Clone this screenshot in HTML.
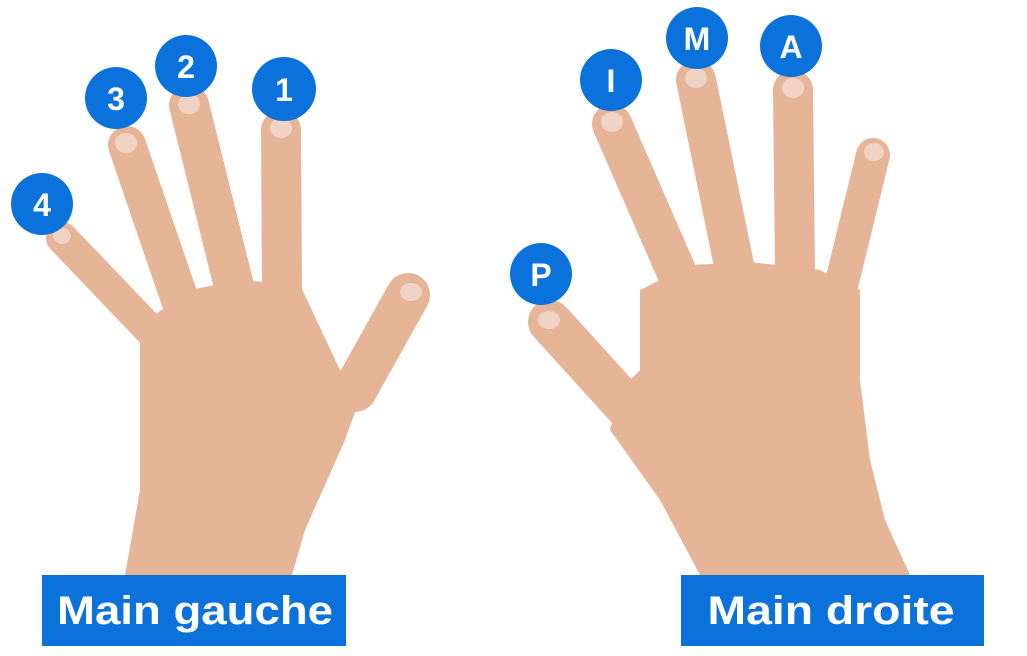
<!DOCTYPE html>
<html><head><meta charset="utf-8"><style>
html,body{margin:0;padding:0;background:#fff;width:1027px;height:656px;overflow:hidden}
svg{display:block}
</style></head><body>
<svg width="1027" height="656" viewBox="0 0 1027 656" xmlns="http://www.w3.org/2000/svg">
<g stroke="#e6b497" stroke-linecap="round" fill="none">
 <line x1="62" y1="238" x2="150" y2="330" stroke-width="32"/>
 <line x1="127" y1="145" x2="180" y2="300" stroke-width="38"/>
 <line x1="189" y1="105" x2="235" y2="290" stroke-width="40"/>
 <line x1="281" y1="130" x2="282" y2="290" stroke-width="40"/>
 <line x1="408" y1="295" x2="355" y2="390" stroke-width="44"/>
 <line x1="550" y1="322" x2="630" y2="410" stroke-width="44"/>
 <line x1="612" y1="124" x2="680" y2="280" stroke-width="40"/>
 <line x1="696" y1="80" x2="735" y2="270" stroke-width="40"/>
 <line x1="793" y1="90" x2="795" y2="270" stroke-width="40"/>
 <line x1="873" y1="155" x2="840" y2="290" stroke-width="34"/>
</g>
<g fill="#e6b497">
 <path d="M140,325 L190,290 L240,280 L300,285 L340,370 L365,385 L345,440 L305,530 L292,575 L125,575 L140,490 L140,420 Z"/>
 <path d="M640,290 L690,265 L750,262 L820,270 L860,290 L860,380 L870,460 L885,520 L910,575 L700,575 L660,500 L610,430 L620,390 L640,370 Z"/>
</g>
<g fill="#f1d3c6">
 <ellipse cx="62" cy="236" rx="9" ry="8"/>
 <ellipse cx="126" cy="143" rx="11" ry="10"/>
 <ellipse cx="189" cy="104" rx="11" ry="10"/>
 <ellipse cx="281" cy="128" rx="11" ry="10"/>
 <ellipse cx="411" cy="292" rx="11" ry="9"/>
 <ellipse cx="549" cy="320" rx="11" ry="9"/>
 <ellipse cx="612" cy="122" rx="11" ry="10"/>
 <ellipse cx="696" cy="78" rx="11" ry="10"/>
 <ellipse cx="793" cy="88" rx="11" ry="10"/>
 <ellipse cx="874" cy="152" rx="10" ry="9"/>
</g>
<g fill="#0b72dc">
 <circle cx="42" cy="204" r="31"/>
 <circle cx="116" cy="98" r="31"/>
 <circle cx="186" cy="66" r="31"/>
 <circle cx="284" cy="89" r="32"/>
 <circle cx="611" cy="80" r="31"/>
 <circle cx="697" cy="38" r="31"/>
 <circle cx="791" cy="46" r="31"/>
 <circle cx="541" cy="274" r="31"/>
 <rect x="42" y="575" width="304" height="71"/>
 <rect x="681" y="575" width="303" height="71"/>
</g>
<g fill="#fff" font-family="Liberation Sans, sans-serif" font-weight="bold" text-anchor="middle">
 <text x="42" y="216" font-size="32">4</text>
 <text x="116" y="110" font-size="32">3</text>
 <text x="186" y="78" font-size="32">2</text>
 <text x="284" y="101" font-size="32">1</text>
 <text x="611" y="92" font-size="32">I</text>
 <text x="697" y="50" font-size="32">M</text>
 <text x="791" y="58" font-size="32">A</text>
 <text x="541" y="286" font-size="32">P</text>
 <text x="195" y="624" font-size="40" textLength="276" lengthAdjust="spacingAndGlyphs">Main gauche</text>
 <text x="831" y="624" font-size="40" textLength="247" lengthAdjust="spacingAndGlyphs">Main droite</text>
</g>
</svg>
</body></html>
